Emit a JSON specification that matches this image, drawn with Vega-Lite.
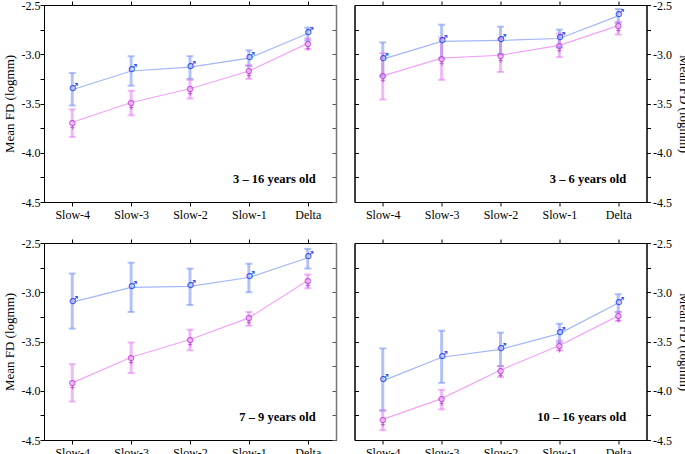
{
  "$schema": "https://vega.github.io/schema/vega-lite/v6.json",
  "background": "white",
  "padding": {"left": 2, "top": -2, "right": 0, "bottom": 0},
  "config": {
    "view": {"stroke": "black", "strokeWidth": 1},
    "axis": {
      "labelFont": "Liberation Serif, Times New Roman, serif", "labelFontSize": 12, "labelColor": "black",
      "titleFont": "Liberation Serif, Times New Roman, serif", "titleFontSize": 13, "titleFontWeight": "normal", "titleColor": "black",
      "domainColor": "black", "tickColor": "black", "grid": false, "tickSize": 4
    }
  },
  "data": {"values": [
    {"panel": "3 – 16 years old", "sex": "M", "band": "Slow-4", "mean": -3.36, "lo": -3.52, "hi": -3.19},
    {"panel": "3 – 16 years old", "sex": "M", "band": "Slow-3", "mean": -3.17, "lo": -3.32, "hi": -3.02},
    {"panel": "3 – 16 years old", "sex": "M", "band": "Slow-2", "mean": -3.13, "lo": -3.25, "hi": -3.02},
    {"panel": "3 – 16 years old", "sex": "M", "band": "Slow-1", "mean": -3.04, "lo": -3.12, "hi": -2.96},
    {"panel": "3 – 16 years old", "sex": "M", "band": "Delta", "mean": -2.79, "lo": -2.86, "hi": -2.73},
    {"panel": "3 – 16 years old", "sex": "F", "band": "Slow-4", "mean": -3.69, "lo": -3.84, "hi": -3.56},
    {"panel": "3 – 16 years old", "sex": "F", "band": "Slow-3", "mean": -3.49, "lo": -3.62, "hi": -3.37},
    {"panel": "3 – 16 years old", "sex": "F", "band": "Slow-2", "mean": -3.35, "lo": -3.45, "hi": -3.26},
    {"panel": "3 – 16 years old", "sex": "F", "band": "Slow-1", "mean": -3.17, "lo": -3.25, "hi": -3.11},
    {"panel": "3 – 16 years old", "sex": "F", "band": "Delta", "mean": -2.89, "lo": -2.95, "hi": -2.84},
    {"panel": "3 – 6 years old", "sex": "M", "band": "Slow-4", "mean": -3.05, "lo": -3.22, "hi": -2.88},
    {"panel": "3 – 6 years old", "sex": "M", "band": "Slow-3", "mean": -2.87, "lo": -3.04, "hi": -2.70},
    {"panel": "3 – 6 years old", "sex": "M", "band": "Slow-2", "mean": -2.86, "lo": -3.00, "hi": -2.72},
    {"panel": "3 – 6 years old", "sex": "M", "band": "Slow-1", "mean": -2.84, "lo": -2.93, "hi": -2.75},
    {"panel": "3 – 6 years old", "sex": "M", "band": "Delta", "mean": -2.61, "lo": -2.68, "hi": -2.54},
    {"panel": "3 – 6 years old", "sex": "F", "band": "Slow-4", "mean": -3.22, "lo": -3.46, "hi": -2.99},
    {"panel": "3 – 6 years old", "sex": "F", "band": "Slow-3", "mean": -3.04, "lo": -3.26, "hi": -2.83},
    {"panel": "3 – 6 years old", "sex": "F", "band": "Slow-2", "mean": -3.01, "lo": -3.18, "hi": -2.84},
    {"panel": "3 – 6 years old", "sex": "F", "band": "Slow-1", "mean": -2.91, "lo": -3.03, "hi": -2.79},
    {"panel": "3 – 6 years old", "sex": "F", "band": "Delta", "mean": -2.71, "lo": -2.80, "hi": -2.67},
    {"panel": "7 – 9 years old", "sex": "M", "band": "Slow-4", "mean": -3.10, "lo": -3.37, "hi": -2.81},
    {"panel": "7 – 9 years old", "sex": "M", "band": "Slow-3", "mean": -2.95, "lo": -3.20, "hi": -2.70},
    {"panel": "7 – 9 years old", "sex": "M", "band": "Slow-2", "mean": -2.94, "lo": -3.13, "hi": -2.76},
    {"panel": "7 – 9 years old", "sex": "M", "band": "Slow-1", "mean": -2.85, "lo": -3.00, "hi": -2.71},
    {"panel": "7 – 9 years old", "sex": "M", "band": "Delta", "mean": -2.65, "lo": -2.76, "hi": -2.56},
    {"panel": "7 – 9 years old", "sex": "F", "band": "Slow-4", "mean": -3.92, "lo": -4.11, "hi": -3.73},
    {"panel": "7 – 9 years old", "sex": "F", "band": "Slow-3", "mean": -3.66, "lo": -3.82, "hi": -3.51},
    {"panel": "7 – 9 years old", "sex": "F", "band": "Slow-2", "mean": -3.48, "lo": -3.59, "hi": -3.38},
    {"panel": "7 – 9 years old", "sex": "F", "band": "Slow-1", "mean": -3.26, "lo": -3.34, "hi": -3.20},
    {"panel": "7 – 9 years old", "sex": "F", "band": "Delta", "mean": -2.88, "lo": -2.96, "hi": -2.82},
    {"panel": "10 – 16 years old", "sex": "M", "band": "Slow-4", "mean": -3.90, "lo": -4.20, "hi": -3.57},
    {"panel": "10 – 16 years old", "sex": "M", "band": "Slow-3", "mean": -3.66, "lo": -3.92, "hi": -3.39},
    {"panel": "10 – 16 years old", "sex": "M", "band": "Slow-2", "mean": -3.58, "lo": -3.75, "hi": -3.41},
    {"panel": "10 – 16 years old", "sex": "M", "band": "Slow-1", "mean": -3.42, "lo": -3.51, "hi": -3.32},
    {"panel": "10 – 16 years old", "sex": "M", "band": "Delta", "mean": -3.11, "lo": -3.20, "hi": -3.02},
    {"panel": "10 – 16 years old", "sex": "F", "band": "Slow-4", "mean": -4.29, "lo": -4.40, "hi": -4.20},
    {"panel": "10 – 16 years old", "sex": "F", "band": "Slow-3", "mean": -4.08, "lo": -4.19, "hi": -3.99},
    {"panel": "10 – 16 years old", "sex": "F", "band": "Slow-2", "mean": -3.79, "lo": -3.86, "hi": -3.75},
    {"panel": "10 – 16 years old", "sex": "F", "band": "Slow-1", "mean": -3.54, "lo": -3.59, "hi": -3.49},
    {"panel": "10 – 16 years old", "sex": "F", "band": "Delta", "mean": -3.24, "lo": -3.29, "hi": -3.20}
  ]},
  "spacing": 15,
  "vconcat": [
  {"spacing": 16.5, "hconcat": [
    {
      "width": 292, "height": 197,
      "transform": [{"filter": "datum.panel == '3 – 16 years old'"}],
      "layer": [
        {"mark": {"type": "rule", "strokeWidth": 3, "opacity": 0.5},
         "encoding": {
           "x": {"field": "band", "type": "ordinal", "sort": ["Slow-4","Slow-3","Slow-2","Slow-1","Delta"], "scale": {"type": "point", "padding": 0.48}, "axis": {"orient": "bottom", "title": null, "labelAngle": 0, "labelPadding": 3}},
           "y": {"field": "lo", "type": "quantitative", "scale": {"domain": [-4.5, -2.5], "nice": false, "zero": false}, "axis": {"orient": "left", "title": "Mean FD (logmm)", "values": [-4.5,-4.25,-4,-3.75,-3.5,-3.25,-3,-2.75,-2.5], "labelExpr": "datum.value % 0.5 == 0 ? replace(format(datum.value, '.1f'), '−', '-') : ''", "labelPadding": 0, "titlePadding": 5}},
           "y2": {"field": "hi"},
           "color": {"field": "sex", "type": "nominal", "scale": {"domain": ["M","F"], "range": ["#6787f3","#e171f1"]}, "legend": null}
         }},
        {"mark": {"type": "tick", "thickness": 2, "size": 7, "opacity": 0.5},
         "encoding": {
           "x": {"field": "band", "type": "ordinal", "sort": ["Slow-4","Slow-3","Slow-2","Slow-1","Delta"], "axis": null},
           "y": {"field": "lo", "type": "quantitative", "axis": {"orient": "right", "title": null, "labels": false, "tickSize": -4, "domainColor": "#777", "domainWidth": 1.5, "tickColor": "#555", "values": [-4.5,-4.25,-4,-3.75,-3.5,-3.25,-3,-2.75,-2.5]}},
           "color": {"field": "sex", "type": "nominal", "scale": {"domain": ["M","F"], "range": ["#6787f3","#e171f1"]}, "legend": null}
         }},
        {"mark": {"type": "tick", "thickness": 2, "size": 7, "opacity": 0.5},
         "encoding": {
           "x": {"field": "band", "type": "ordinal", "sort": ["Slow-4","Slow-3","Slow-2","Slow-1","Delta"], "axis": null},
           "y": {"field": "hi", "type": "quantitative", "axis": null},
           "color": {"field": "sex", "type": "nominal", "scale": {"domain": ["M","F"], "range": ["#6787f3","#e171f1"]}, "legend": null}
         }},
        {"mark": {"type": "line", "strokeWidth": 1.2},
         "encoding": {
           "x": {"field": "band", "type": "ordinal", "sort": ["Slow-4","Slow-3","Slow-2","Slow-1","Delta"], "axis": {"orient": "top", "title": null, "labels": false}},
           "y": {"field": "mean", "type": "quantitative", "axis": null},
           "color": {"field": "sex", "type": "nominal", "scale": {"domain": ["M","F"], "range": ["#a4b6f8","#f0a4f8"]}, "legend": null}
         }},
        {"transform": [{"filter": "datum.sex == 'M'"}],
         "mark": {"type": "text", "font": "DejaVu Sans", "fontSize": 11, "dx": 1.5, "dy": -1.5, "color": "#2a4cf0"},
         "encoding": {
           "x": {"field": "band", "type": "ordinal", "sort": ["Slow-4","Slow-3","Slow-2","Slow-1","Delta"], "axis": null},
           "y": {"field": "mean", "type": "quantitative", "axis": null},
           "text": {"value": "♂"}
         }},
        {"transform": [{"filter": "datum.sex == 'F'"}],
         "mark": {"type": "text", "font": "DejaVu Sans", "fontSize": 11, "dy": 2.5, "color": "#c04ce0"},
         "encoding": {
           "x": {"field": "band", "type": "ordinal", "sort": ["Slow-4","Slow-3","Slow-2","Slow-1","Delta"], "axis": null},
           "y": {"field": "mean", "type": "quantitative", "axis": null},
           "text": {"value": "♀"}
         }},
        {"transform": [{"filter": "datum.sex == 'M' && datum.band == 'Delta'"}],
         "mark": {"type": "text", "font": "Liberation Serif, Times New Roman, serif", "fontSize": 12.5, "fontWeight": "bold", "align": "right", "baseline": "middle", "dx": 8, "color": "black"},
         "encoding": {
           "x": {"field": "band", "type": "ordinal", "sort": ["Slow-4","Slow-3","Slow-2","Slow-1","Delta"], "axis": null},
           "y": {"datum": -4.27, "type": "quantitative", "axis": null},
           "text": {"field": "panel"}
         }}
      ],
      "resolve": {"axis": {"x": "independent", "y": "independent"}, "scale": {"color": "independent"}}
    },
    {
      "width": 292, "height": 197,
      "transform": [{"filter": "datum.panel == '3 – 6 years old'"}],
      "layer": [
        {"mark": {"type": "rule", "strokeWidth": 3, "opacity": 0.5},
         "encoding": {
           "x": {"field": "band", "type": "ordinal", "sort": ["Slow-4","Slow-3","Slow-2","Slow-1","Delta"], "scale": {"type": "point", "padding": 0.48}, "axis": {"orient": "bottom", "title": null, "labelAngle": 0, "labelPadding": 3}},
           "y": {"field": "lo", "type": "quantitative", "scale": {"domain": [-4.5, -2.5], "nice": false, "zero": false}, "axis": {"orient": "right", "title": "Mean FD (logmm)", "values": [-4.5,-4.25,-4,-3.75,-3.5,-3.25,-3,-2.75,-2.5], "labelExpr": "datum.value % 0.5 == 0 ? replace(format(datum.value, '.1f'), '−', '-') : ''", "labelPadding": 2, "titlePadding": 5}},
           "y2": {"field": "hi"},
           "color": {"field": "sex", "type": "nominal", "scale": {"domain": ["M","F"], "range": ["#6787f3","#e171f1"]}, "legend": null}
         }},
        {"mark": {"type": "tick", "thickness": 2, "size": 7, "opacity": 0.5},
         "encoding": {
           "x": {"field": "band", "type": "ordinal", "sort": ["Slow-4","Slow-3","Slow-2","Slow-1","Delta"], "axis": null},
           "y": {"field": "lo", "type": "quantitative", "axis": {"orient": "left", "title": null, "labels": false, "tickSize": -4, "values": [-4.5,-4.25,-4,-3.75,-3.5,-3.25,-3,-2.75,-2.5]}},
           "color": {"field": "sex", "type": "nominal", "scale": {"domain": ["M","F"], "range": ["#6787f3","#e171f1"]}, "legend": null}
         }},
        {"mark": {"type": "tick", "thickness": 2, "size": 7, "opacity": 0.5},
         "encoding": {
           "x": {"field": "band", "type": "ordinal", "sort": ["Slow-4","Slow-3","Slow-2","Slow-1","Delta"], "axis": null},
           "y": {"field": "hi", "type": "quantitative", "axis": null},
           "color": {"field": "sex", "type": "nominal", "scale": {"domain": ["M","F"], "range": ["#6787f3","#e171f1"]}, "legend": null}
         }},
        {"mark": {"type": "line", "strokeWidth": 1.2},
         "encoding": {
           "x": {"field": "band", "type": "ordinal", "sort": ["Slow-4","Slow-3","Slow-2","Slow-1","Delta"], "axis": {"orient": "top", "title": null, "labels": false}},
           "y": {"field": "mean", "type": "quantitative", "axis": null},
           "color": {"field": "sex", "type": "nominal", "scale": {"domain": ["M","F"], "range": ["#a4b6f8","#f0a4f8"]}, "legend": null}
         }},
        {"transform": [{"filter": "datum.sex == 'M'"}],
         "mark": {"type": "text", "font": "DejaVu Sans", "fontSize": 11, "dx": 1.5, "dy": -1.5, "color": "#2a4cf0"},
         "encoding": {
           "x": {"field": "band", "type": "ordinal", "sort": ["Slow-4","Slow-3","Slow-2","Slow-1","Delta"], "axis": null},
           "y": {"field": "mean", "type": "quantitative", "axis": null},
           "text": {"value": "♂"}
         }},
        {"transform": [{"filter": "datum.sex == 'F'"}],
         "mark": {"type": "text", "font": "DejaVu Sans", "fontSize": 11, "dy": 2.5, "color": "#c04ce0"},
         "encoding": {
           "x": {"field": "band", "type": "ordinal", "sort": ["Slow-4","Slow-3","Slow-2","Slow-1","Delta"], "axis": null},
           "y": {"field": "mean", "type": "quantitative", "axis": null},
           "text": {"value": "♀"}
         }},
        {"transform": [{"filter": "datum.sex == 'M' && datum.band == 'Delta'"}],
         "mark": {"type": "text", "font": "Liberation Serif, Times New Roman, serif", "fontSize": 12.5, "fontWeight": "bold", "align": "right", "baseline": "middle", "dx": 8, "color": "black"},
         "encoding": {
           "x": {"field": "band", "type": "ordinal", "sort": ["Slow-4","Slow-3","Slow-2","Slow-1","Delta"], "axis": null},
           "y": {"datum": -4.27, "type": "quantitative", "axis": null},
           "text": {"field": "panel"}
         }}
      ],
      "resolve": {"axis": {"x": "independent", "y": "independent"}, "scale": {"color": "independent"}}
    }
  ]},
  {"spacing": 16.5, "hconcat": [
    {
      "width": 292, "height": 197,
      "transform": [{"filter": "datum.panel == '7 – 9 years old'"}],
      "layer": [
        {"mark": {"type": "rule", "strokeWidth": 3, "opacity": 0.5},
         "encoding": {
           "x": {"field": "band", "type": "ordinal", "sort": ["Slow-4","Slow-3","Slow-2","Slow-1","Delta"], "scale": {"type": "point", "padding": 0.48}, "axis": {"orient": "bottom", "title": null, "labelAngle": 0, "labelPadding": 3}},
           "y": {"field": "lo", "type": "quantitative", "scale": {"domain": [-4.5, -2.5], "nice": false, "zero": false}, "axis": {"orient": "left", "title": "Mean FD (logmm)", "values": [-4.5,-4.25,-4,-3.75,-3.5,-3.25,-3,-2.75,-2.5], "labelExpr": "datum.value % 0.5 == 0 ? replace(format(datum.value, '.1f'), '−', '-') : ''", "labelPadding": 0, "titlePadding": 5}},
           "y2": {"field": "hi"},
           "color": {"field": "sex", "type": "nominal", "scale": {"domain": ["M","F"], "range": ["#6787f3","#e171f1"]}, "legend": null}
         }},
        {"mark": {"type": "tick", "thickness": 2, "size": 7, "opacity": 0.5},
         "encoding": {
           "x": {"field": "band", "type": "ordinal", "sort": ["Slow-4","Slow-3","Slow-2","Slow-1","Delta"], "axis": null},
           "y": {"field": "lo", "type": "quantitative", "axis": {"orient": "right", "title": null, "labels": false, "tickSize": -4, "domainColor": "#777", "domainWidth": 1.5, "tickColor": "#555", "values": [-4.5,-4.25,-4,-3.75,-3.5,-3.25,-3,-2.75,-2.5]}},
           "color": {"field": "sex", "type": "nominal", "scale": {"domain": ["M","F"], "range": ["#6787f3","#e171f1"]}, "legend": null}
         }},
        {"mark": {"type": "tick", "thickness": 2, "size": 7, "opacity": 0.5},
         "encoding": {
           "x": {"field": "band", "type": "ordinal", "sort": ["Slow-4","Slow-3","Slow-2","Slow-1","Delta"], "axis": null},
           "y": {"field": "hi", "type": "quantitative", "axis": null},
           "color": {"field": "sex", "type": "nominal", "scale": {"domain": ["M","F"], "range": ["#6787f3","#e171f1"]}, "legend": null}
         }},
        {"mark": {"type": "line", "strokeWidth": 1.2},
         "encoding": {
           "x": {"field": "band", "type": "ordinal", "sort": ["Slow-4","Slow-3","Slow-2","Slow-1","Delta"], "axis": {"orient": "top", "title": null, "labels": false}},
           "y": {"field": "mean", "type": "quantitative", "axis": null},
           "color": {"field": "sex", "type": "nominal", "scale": {"domain": ["M","F"], "range": ["#a4b6f8","#f0a4f8"]}, "legend": null}
         }},
        {"transform": [{"filter": "datum.sex == 'M'"}],
         "mark": {"type": "text", "font": "DejaVu Sans", "fontSize": 11, "dx": 1.5, "dy": -1.5, "color": "#2a4cf0"},
         "encoding": {
           "x": {"field": "band", "type": "ordinal", "sort": ["Slow-4","Slow-3","Slow-2","Slow-1","Delta"], "axis": null},
           "y": {"field": "mean", "type": "quantitative", "axis": null},
           "text": {"value": "♂"}
         }},
        {"transform": [{"filter": "datum.sex == 'F'"}],
         "mark": {"type": "text", "font": "DejaVu Sans", "fontSize": 11, "dy": 2.5, "color": "#c04ce0"},
         "encoding": {
           "x": {"field": "band", "type": "ordinal", "sort": ["Slow-4","Slow-3","Slow-2","Slow-1","Delta"], "axis": null},
           "y": {"field": "mean", "type": "quantitative", "axis": null},
           "text": {"value": "♀"}
         }},
        {"transform": [{"filter": "datum.sex == 'M' && datum.band == 'Delta'"}],
         "mark": {"type": "text", "font": "Liberation Serif, Times New Roman, serif", "fontSize": 12.5, "fontWeight": "bold", "align": "right", "baseline": "middle", "dx": 8, "color": "black"},
         "encoding": {
           "x": {"field": "band", "type": "ordinal", "sort": ["Slow-4","Slow-3","Slow-2","Slow-1","Delta"], "axis": null},
           "y": {"datum": -4.27, "type": "quantitative", "axis": null},
           "text": {"field": "panel"}
         }}
      ],
      "resolve": {"axis": {"x": "independent", "y": "independent"}, "scale": {"color": "independent"}}
    },
    {
      "width": 292, "height": 197,
      "transform": [{"filter": "datum.panel == '10 – 16 years old'"}],
      "layer": [
        {"mark": {"type": "rule", "strokeWidth": 3, "opacity": 0.5},
         "encoding": {
           "x": {"field": "band", "type": "ordinal", "sort": ["Slow-4","Slow-3","Slow-2","Slow-1","Delta"], "scale": {"type": "point", "padding": 0.48}, "axis": {"orient": "bottom", "title": null, "labelAngle": 0, "labelPadding": 3}},
           "y": {"field": "lo", "type": "quantitative", "scale": {"domain": [-4.5, -2.5], "nice": false, "zero": false}, "axis": {"orient": "right", "title": "Mean FD (logmm)", "values": [-4.5,-4.25,-4,-3.75,-3.5,-3.25,-3,-2.75,-2.5], "labelExpr": "datum.value % 0.5 == 0 ? replace(format(datum.value, '.1f'), '−', '-') : ''", "labelPadding": 2, "titlePadding": 5}},
           "y2": {"field": "hi"},
           "color": {"field": "sex", "type": "nominal", "scale": {"domain": ["M","F"], "range": ["#6787f3","#e171f1"]}, "legend": null}
         }},
        {"mark": {"type": "tick", "thickness": 2, "size": 7, "opacity": 0.5},
         "encoding": {
           "x": {"field": "band", "type": "ordinal", "sort": ["Slow-4","Slow-3","Slow-2","Slow-1","Delta"], "axis": null},
           "y": {"field": "lo", "type": "quantitative", "axis": {"orient": "left", "title": null, "labels": false, "tickSize": -4, "values": [-4.5,-4.25,-4,-3.75,-3.5,-3.25,-3,-2.75,-2.5]}},
           "color": {"field": "sex", "type": "nominal", "scale": {"domain": ["M","F"], "range": ["#6787f3","#e171f1"]}, "legend": null}
         }},
        {"mark": {"type": "tick", "thickness": 2, "size": 7, "opacity": 0.5},
         "encoding": {
           "x": {"field": "band", "type": "ordinal", "sort": ["Slow-4","Slow-3","Slow-2","Slow-1","Delta"], "axis": null},
           "y": {"field": "hi", "type": "quantitative", "axis": null},
           "color": {"field": "sex", "type": "nominal", "scale": {"domain": ["M","F"], "range": ["#6787f3","#e171f1"]}, "legend": null}
         }},
        {"mark": {"type": "line", "strokeWidth": 1.2},
         "encoding": {
           "x": {"field": "band", "type": "ordinal", "sort": ["Slow-4","Slow-3","Slow-2","Slow-1","Delta"], "axis": {"orient": "top", "title": null, "labels": false}},
           "y": {"field": "mean", "type": "quantitative", "axis": null},
           "color": {"field": "sex", "type": "nominal", "scale": {"domain": ["M","F"], "range": ["#a4b6f8","#f0a4f8"]}, "legend": null}
         }},
        {"transform": [{"filter": "datum.sex == 'M'"}],
         "mark": {"type": "text", "font": "DejaVu Sans", "fontSize": 11, "dx": 1.5, "dy": -1.5, "color": "#2a4cf0"},
         "encoding": {
           "x": {"field": "band", "type": "ordinal", "sort": ["Slow-4","Slow-3","Slow-2","Slow-1","Delta"], "axis": null},
           "y": {"field": "mean", "type": "quantitative", "axis": null},
           "text": {"value": "♂"}
         }},
        {"transform": [{"filter": "datum.sex == 'F'"}],
         "mark": {"type": "text", "font": "DejaVu Sans", "fontSize": 11, "dy": 2.5, "color": "#c04ce0"},
         "encoding": {
           "x": {"field": "band", "type": "ordinal", "sort": ["Slow-4","Slow-3","Slow-2","Slow-1","Delta"], "axis": null},
           "y": {"field": "mean", "type": "quantitative", "axis": null},
           "text": {"value": "♀"}
         }},
        {"transform": [{"filter": "datum.sex == 'M' && datum.band == 'Delta'"}],
         "mark": {"type": "text", "font": "Liberation Serif, Times New Roman, serif", "fontSize": 12.5, "fontWeight": "bold", "align": "right", "baseline": "middle", "dx": 8, "color": "black"},
         "encoding": {
           "x": {"field": "band", "type": "ordinal", "sort": ["Slow-4","Slow-3","Slow-2","Slow-1","Delta"], "axis": null},
           "y": {"datum": -4.27, "type": "quantitative", "axis": null},
           "text": {"field": "panel"}
         }}
      ],
      "resolve": {"axis": {"x": "independent", "y": "independent"}, "scale": {"color": "independent"}}
    }
  ]}
  ]
}
